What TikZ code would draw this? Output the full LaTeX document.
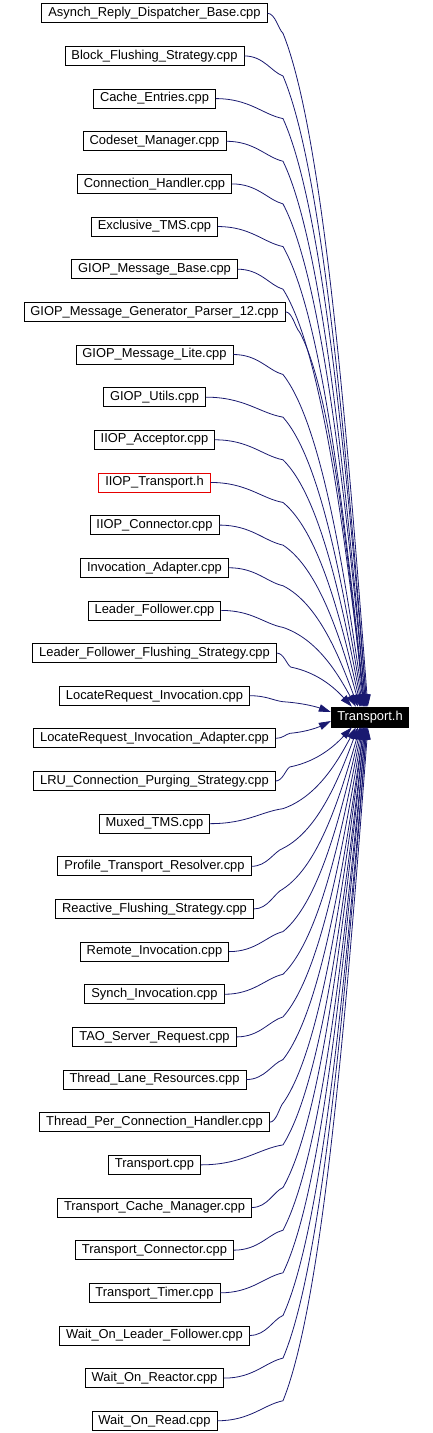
\documentclass[tikz,border=0pt]{standalone}
\usepackage{fontspec}
\setmainfont{Liberation Sans}
\usetikzlibrary{arrows.meta,calc}
\definecolor{edgenavy}{RGB}{25,25,112}
\definecolor{hotred}{RGB}{230,0,0}
\tikzset{
  % ---- files ------------------------------------------------------------
  src/.style={
    draw=black, line width=0.8pt, fill=white,
    font=\fontsize{12.9}{15}\selectfont,
    inner xsep=6.5pt, inner ysep=0pt, minimum height=19pt},
  srcr/.style={src, draw=hotred},
  % the included header
  hdr/.style={src, fill=black, text=white, minimum height=20pt, inner xsep=6pt},
  % ---- arrows -----------------------------------------------------------
  dep/.style={-{Triangle[length=12pt,width=7.5pt]}, draw=edgenavy, line width=0.8pt},
}

\begin{document}
\begin{tikzpicture}[x=1pt,y=-1pt]

\useasboundingbox (0,0) rectangle (433,1433);

\newcommand{\src}[4][src]{\node[#1] (#2) at (154.5,{13.3+42.65*#3}) {#4};}
\newcommand{\dep}[3]{%
  \draw[dep] let \p1=(#1.east), \p2=(#2), \p3=({max(283pt,\x1+14pt)},{\y1-(#3pt)}) in
    (\p1) .. controls ({\x1+0.5*(\x3-\x1)},\y1) and ({\x3-0.3*(\x3-\x1)},{\y3+0.2*(#3pt)}) ..
    (\p3) .. controls ({\x3+0.48*(\x2-\x3)},{\y3+0.15*(\y2-\y3)})
             and ({\x2-0.24*(\x2-\x3)},{\y2-0.4*(\y2-\y3)}) .. (\p2);}

% ---- target ---------------------------------------------------------------
\node[hdr] (th) at (370,717) {Transport.h};

% ---- including files ------------------------------------------------------
\src{asynch}{0}{Asynch\_Reply\_Dispatcher\_Base.cpp}
\src{blockfl}{1}{Block\_Flushing\_Strategy.cpp}
\src{cacheent}{2}{Cache\_Entries.cpp}
\src{codeset}{3}{Codeset\_Manager.cpp}
\src{connh}{4}{Connection\_Handler.cpp}
\src{extms}{5}{Exclusive\_TMS.cpp}
\src{giopbase}{6}{GIOP\_Message\_Base.cpp}
\src{giopgen}{7}{GIOP\_Message\_Generator\_Parser\_12.cpp}
\src{gioplite}{8}{GIOP\_Message\_Lite.cpp}
\src{giopu}{9}{GIOP\_Utils.cpp}
\src{iiopacc}{10}{IIOP\_Acceptor.cpp}
\src[srcr]{iioptr}{11}{IIOP\_Transport.h}
\src{iiopconn}{12}{IIOP\_Connector.cpp}
\src{invad}{13}{Invocation\_Adapter.cpp}
\src{lf}{14}{Leader\_Follower.cpp}
\src{lffl}{15}{Leader\_Follower\_Flushing\_Strategy.cpp}
\src{locinv}{16}{LocateRequest\_Invocation.cpp}
\src{locinvad}{17}{LocateRequest\_Invocation\_Adapter.cpp}
\src{lru}{18}{LRU\_Connection\_Purging\_Strategy.cpp}
\src{muxtms}{19}{Muxed\_TMS.cpp}
\src{ptres}{20}{Profile\_Transport\_Resolver.cpp}
\src{reactfl}{21}{Reactive\_Flushing\_Strategy.cpp}
\src{remoteinv}{22}{Remote\_Invocation.cpp}
\src{synchinv}{23}{Synch\_Invocation.cpp}
\src{servreq}{24}{TAO\_Server\_Request.cpp}
\src{laneres}{25}{Thread\_Lane\_Resources.cpp}
\src{tpch}{26}{Thread\_Per\_Connection\_Handler.cpp}
\src{trcpp}{27}{Transport.cpp}
\src{trcache}{28}{Transport\_Cache\_Manager.cpp}
\src{trconn}{29}{Transport\_Connector.cpp}
\src{trtimer}{30}{Transport\_Timer.cpp}
\src{wolf}{31}{Wait\_On\_Leader\_Follower.cpp}
\src{woreact}{32}{Wait\_On\_Reactor.cpp}
\src{woread}{33}{Wait\_On\_Read.cpp}

% ---- edges from above -----------------------------------------------------
\dep{asynch}{$(th.north west)+(37,0)$}{20}
\dep{blockfl}{$(th.north west)+(36,0)$}{20}
\dep{cacheent}{$(th.north west)+(36,0)$}{20}
\dep{codeset}{$(th.north west)+(35,0)$}{20}
\dep{connh}{$(th.north west)+(35,0)$}{20}
\dep{extms}{$(th.north west)+(34,0)$}{20}
\dep{giopbase}{$(th.north west)+(34,0)$}{20}
\dep{giopgen}{$(th.north west)+(33,0)$}{20}
\dep{gioplite}{$(th.north west)+(33,0)$}{20}
\dep{giopu}{$(th.north west)+(32,0)$}{20}
\dep{iiopacc}{$(th.north west)+(31,0)$}{20}
\dep{iioptr}{$(th.north west)+(30,0)$}{20}
\dep{iiopconn}{$(th.north west)+(29,0)$}{20}
\dep{invad}{$(th.north west)+(27,0)$}{18}
\dep{lf}{$(th.north west)+(25,0)$}{17}
\dep{lffl}{$(th.north west)+(21,0)$}{14}

% ---- edges from the side --------------------------------------------------
\dep{locinv}{$(th.west)+(0,-5)$}{6}
\dep{locinvad}{$(th.west)+(0,4)$}{-5}

% ---- edges from below -----------------------------------------------------
\dep{lru}{$(th.south west)+(21,0)$}{-14}
\dep{muxtms}{$(th.south west)+(25,0)$}{-15}
\dep{ptres}{$(th.south west)+(27,0)$}{-18}
\dep{reactfl}{$(th.south west)+(29,0)$}{-20}
\dep{remoteinv}{$(th.south west)+(30,0)$}{-20}
\dep{synchinv}{$(th.south west)+(31,0)$}{-20}
\dep{servreq}{$(th.south west)+(32,0)$}{-20}
\dep{laneres}{$(th.south west)+(33,0)$}{-20}
\dep{tpch}{$(th.south west)+(33,0)$}{-20}
\dep{trcpp}{$(th.south west)+(34,0)$}{-20}
\dep{trcache}{$(th.south west)+(34,0)$}{-20}
\dep{trconn}{$(th.south west)+(35,0)$}{-20}
\dep{trtimer}{$(th.south west)+(35,0)$}{-20}
\dep{wolf}{$(th.south west)+(36,0)$}{-20}
\dep{woreact}{$(th.south west)+(36,0)$}{-20}
\dep{woread}{$(th.south west)+(37,0)$}{-20}

\end{tikzpicture}
\end{document}
